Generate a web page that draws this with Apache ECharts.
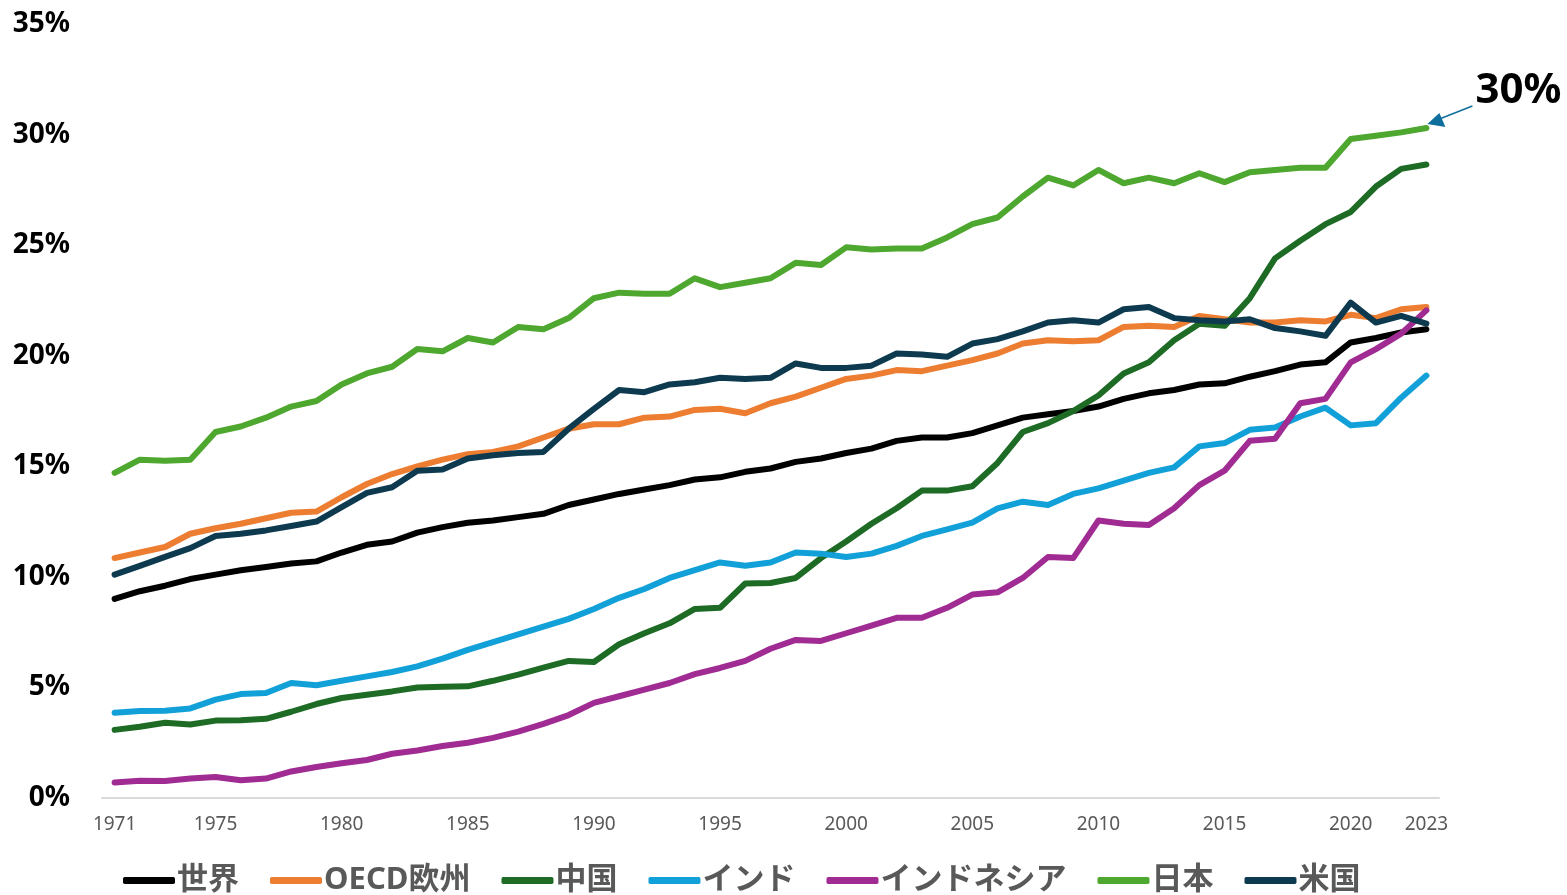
<!DOCTYPE html>
<html>
<head>
<meta charset="utf-8">
<script src="https://cdn.jsdelivr.net/npm/echarts@6/dist/echarts.min.js"></script>
<style>
  html, body { margin: 0; padding: 0; background: #ffffff; }
  #chart { width: 1567px; height: 895px; }
</style>
</head>
<body>
<div id="chart"></div>
<script>
// Share of each region (%), 1971–2023
const years = [];
for (let y = 1971; y <= 2023; y++) years.push(String(y));

const seriesNames = ['世界', 'OECD欧州', '中国', 'インド', 'インドネシア', '日本', '米国'];
const seriesColors = ['#000000', '#ED7D31', '#1D6B24', '#12A0D8', '#A02B93', '#4EA72E', '#0E3A50'];

const world = [9.0, 9.35, 9.6, 9.9, 10.1, 10.3, 10.45, 10.6, 10.7, 11.1,
  11.45, 11.6, 12.0, 12.25, 12.45, 12.55, 12.7, 12.85, 13.25, 13.5,
  13.75, 13.95, 14.15, 14.4, 14.5, 14.75, 14.9, 15.2, 15.35, 15.6,
  15.8, 16.15, 16.3, 16.3, 16.5, 16.85, 17.2, 17.35, 17.5, 17.7,
  18.05, 18.3, 18.45, 18.7, 18.75, 19.05, 19.3, 19.6, 19.7, 20.6,
  20.8, 21.05, 21.2];
const oecdEurope = [10.85, 11.1, 11.35, 11.95, 12.2, 12.4, 12.65, 12.9, 12.95, 13.6,
  14.2, 14.65, 15.0, 15.3, 15.55, 15.65, 15.9, 16.3, 16.7, 16.9,
  16.9, 17.2, 17.25, 17.55, 17.6, 17.4, 17.85, 18.15, 18.55, 18.95,
  19.1, 19.35, 19.3, 19.55, 19.8, 20.1, 20.55, 20.7, 20.65, 20.7,
  21.3, 21.35, 21.3, 21.8, 21.65, 21.5, 21.5, 21.6, 21.55, 21.85,
  21.7, 22.1, 22.2];
const china = [3.08, 3.22, 3.4, 3.32, 3.5, 3.52, 3.58, 3.9, 4.25, 4.52,
  4.67, 4.82, 5.0, 5.03, 5.05, 5.3, 5.58, 5.9, 6.2, 6.15,
  6.95, 7.45, 7.9, 8.55, 8.6, 9.7, 9.72, 9.95, 10.85, 11.6,
  12.4, 13.1, 13.9, 13.9, 14.1, 15.15, 16.55, 16.95, 17.5, 18.2,
  19.2, 19.7, 20.7, 21.45, 21.35, 22.6, 24.4, 25.2, 25.95, 26.5,
  27.65, 28.45, 28.65];
const india = [3.85, 3.93, 3.95, 4.05, 4.45, 4.7, 4.75, 5.2, 5.1, 5.3,
  5.5, 5.7, 5.95, 6.3, 6.7, 7.05, 7.4, 7.75, 8.1, 8.55,
  9.05, 9.45, 9.95, 10.3, 10.65, 10.5, 10.65, 11.1, 11.05, 10.9,
  11.05, 11.4, 11.85, 12.15, 12.45, 13.1, 13.4, 13.25, 13.75, 14.0,
  14.35, 14.7, 14.95, 15.9, 16.05, 16.65, 16.75, 17.25, 17.65, 16.85,
  16.95, 18.1, 19.1];
const indonesia = [0.7, 0.78, 0.77, 0.88, 0.95, 0.8, 0.88, 1.2, 1.4, 1.57,
  1.72, 2.0, 2.15, 2.35, 2.5, 2.72, 3.0, 3.35, 3.75, 4.3,
  4.6, 4.9, 5.2, 5.6, 5.88, 6.2, 6.75, 7.15, 7.1, 7.45,
  7.8, 8.15, 8.15, 8.6, 9.2, 9.3, 9.95, 10.9, 10.85, 12.55,
  12.4, 12.35, 13.1, 14.15, 14.8, 16.15, 16.25, 17.85, 18.05, 19.7,
  20.3, 21.0, 22.05];
const japan = [14.7, 15.3, 15.25, 15.3, 16.55, 16.8, 17.2, 17.7, 17.95, 18.7,
  19.2, 19.5, 20.3, 20.2, 20.8, 20.6, 21.3, 21.2, 21.7, 22.6,
  22.85, 22.8, 22.8, 23.5, 23.1, 23.3, 23.5, 24.2, 24.1, 24.9,
  24.8, 24.85, 24.85, 25.35, 25.95, 26.25, 27.2, 28.05, 27.7, 28.4,
  27.8, 28.05, 27.8, 28.25, 27.85, 28.3, 28.4, 28.5, 28.5, 29.8,
  29.95, 30.1, 30.3];
const usa = [10.1, 10.5, 10.9, 11.3, 11.85, 11.95, 12.1, 12.3, 12.5, 13.15,
  13.8, 14.05, 14.8, 14.85, 15.35, 15.5, 15.6, 15.65, 16.7, 17.6,
  18.45, 18.35, 18.7, 18.8, 19.0, 18.95, 19.0, 19.65, 19.45, 19.45,
  19.55, 20.1, 20.05, 19.95, 20.55, 20.75, 21.1, 21.5, 21.6, 21.5,
  22.1, 22.2, 21.7, 21.6, 21.55, 21.65, 21.25, 21.1, 20.9, 22.4,
  21.5, 21.8, 21.45];

const seriesValues = [world, oecdEurope, china, india, indonesia, japan, usa];

// x-axis shows the first year, every fifth year and the last year
const shownYears = new Set(['1971', '1975', '1980', '1985', '1990', '1995',
  '2000', '2005', '2010', '2015', '2020', '2023']);

const chart = echarts.init(document.getElementById('chart'), null, { renderer: 'canvas' });

const option = {
  backgroundColor: '#ffffff',
  animation: false,
  grid: { left: 102, right: 128, top: 24, bottom: 97, containLabel: false },
  xAxis: {
    type: 'category',
    data: years,
    boundaryGap: true,
    axisLine: { show: true, lineStyle: { color: '#D9D9D9', width: 2 } },
    axisTick: { show: false },
    axisLabel: {
      interval: (idx, val) => shownYears.has(val),
      color: '#595959',
      fontFamily: 'Noto Sans',
      fontSize: 19,
      margin: 17
    },
    splitLine: { show: false }
  },
  yAxis: {
    type: 'value',
    min: 0,
    max: 35,
    interval: 5,
    axisLine: { show: false },
    axisTick: { show: false },
    splitLine: { show: false },
    axisLabel: {
      formatter: '{value}%',
      color: '#000000',
      fontFamily: 'Noto Sans',
      fontWeight: 'bold',
      fontSize: 28,
      margin: 32
    }
  },
  legend: {
    left: 118,
    top: 860,
    icon: 'roundRect',
    itemWidth: 52,
    itemHeight: 7,
    itemGap: 31,
    textStyle: {
      color: '#595959',
      fontFamily: '"Noto Sans", "Noto Sans CJK JP"',
      fontWeight: 'bold',
      fontSize: 31,
      padding: [0, 0, 0, -3]
    },
    data: seriesNames
  },
  series: seriesNames.map((name, i) => ({
    name: name,
    type: 'line',
    data: seriesValues[i],
    color: seriesColors[i],
    showSymbol: false,
    symbol: 'none',
    smooth: false,
    lineStyle: { width: 6, color: seriesColors[i], cap: 'round', join: 'round' },
    emphasis: { disabled: true }
  }))
};

chart.setOption(option);

// Callout pointing at the last value of 日本
const jpIdx = seriesNames.indexOf('日本');
const lastI = years.length - 1;
const lastVal = seriesValues[jpIdx][lastI];
const p = chart.convertToPixel({ seriesIndex: jpIdx }, [lastI, lastVal]);
const tx = p[0] + 1, ty = p[1] - 4;
const arrowColor = '#0F6F9C';

chart.setOption({
  graphic: [
    {
      type: 'line',
      shape: { x1: tx + 12, y1: ty - 5, x2: tx + 45, y2: ty - 18 },
      style: { stroke: arrowColor, lineWidth: 1.5 },
      silent: true
    },
    {
      type: 'polygon',
      shape: { points: [[tx, ty], [tx + 12, ty - 11], [tx + 18, ty + 3]] },
      style: { fill: arrowColor },
      silent: true
    },
    {
      type: 'text',
      x: tx + 48,
      y: ty - 33,
      style: {
        text: Math.round(lastVal) + '%',
        fill: '#000000',
        font: 'bold 42px "Noto Sans"',
        verticalAlign: 'middle',
        align: 'left'
      },
      silent: true
    }
  ]
});
</script>
</body>
</html>
